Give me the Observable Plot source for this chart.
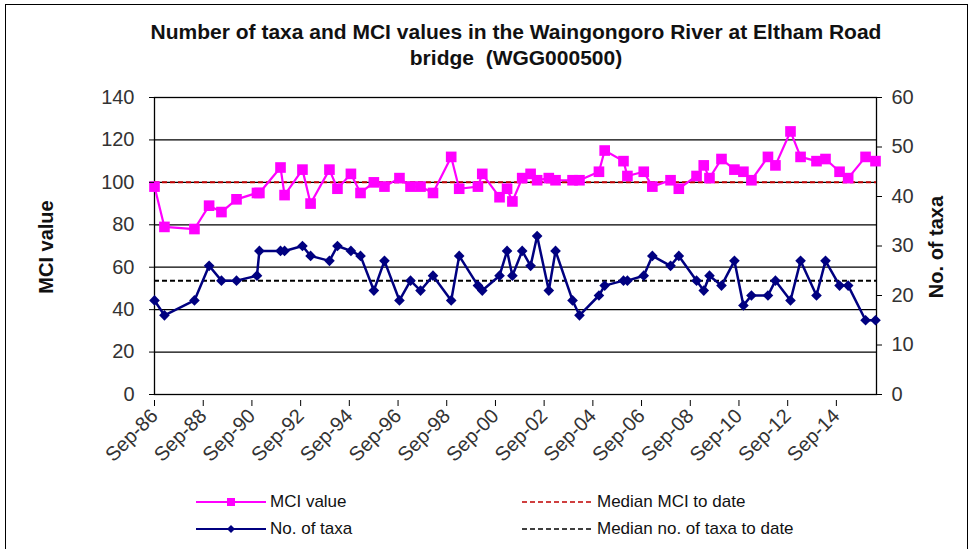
<!DOCTYPE html>
<html>
<head>
<meta charset="utf-8">
<script src="https://cdn.jsdelivr.net/npm/d3@7"></script>
<script src="https://cdn.jsdelivr.net/npm/@observablehq/plot@0.6"></script>
<style>
  body { margin: 0; background: #fff; font-family: "Liberation Sans", Arial, sans-serif; }
  #wrap { position: relative; width: 971px; height: 549px; overflow: hidden; background: #fff; }
  #frame { position: absolute; left: 5px; top: 4px; width: 963px; height: 560px; border: 1px solid #000; box-sizing: border-box; pointer-events: none; }
  #title { position: absolute; left: 0; top: 19px; width: 1032px; text-align: center; font-weight: bold; font-size: 21px; line-height: 26px; color: #111; }
  #chart { position: absolute; left: 0; top: 85px; }
  .ytitle { position: absolute; font-weight: bold; font-size: 20px; color: #111; white-space: nowrap; transform: translate(-50%, -50%) rotate(-90deg); }
  .leg { position: absolute; font-size: 17px; color: #111; white-space: nowrap; line-height: 20px; }
  .legsym { position: absolute; }
</style>
</head>
<body>
<div id="wrap">
  <div id="title">Number of taxa and MCI values in the Waingongoro River at Eltham Road<br>bridge&nbsp; (WGG000500)</div>
  <div id="chart"></div>
  <div class="ytitle" style="left:46px; top:247px;">MCI value</div>
  <div class="ytitle" style="left:936px; top:247px;">No. of taxa</div>
  <svg class="legsym" style="left:190px; top:490px;" width="80" height="50">
    <line x1="6" x2="76" y1="12" y2="12" stroke="#ff00ff" stroke-width="2"/>
    <rect x="37" y="8" width="8" height="8" fill="#ff00ff"/>
    <line x1="6" x2="76" y1="39" y2="39" stroke="#000080" stroke-width="2"/>
    <path d="M41,35 L45,39 L41,43 L37,39 Z" fill="#000080"/>
  </svg>
  <div class="leg" style="left:270px; top:492px;">MCI value</div>
  <div class="leg" style="left:270px; top:519px;">No. of taxa</div>
  <svg class="legsym" style="left:518px; top:490px;" width="80" height="50">
    <line x1="4" x2="74" y1="12" y2="12" stroke="#c00000" stroke-width="1.5" stroke-dasharray="5,3"/>
    <line x1="4" x2="74" y1="39" y2="39" stroke="#000" stroke-width="1.5" stroke-dasharray="5,3"/>
  </svg>
  <div class="leg" style="left:597px; top:492px;">Median MCI to date</div>
  <div class="leg" style="left:597px; top:519px;">Median no. of taxa to date</div>
  <div id="frame"></div>
</div>
<script>
// ---- data ----
const sampleDates = [
  "1986-09-01","1987-01-28","1988-04-22","1988-11-28","1989-06-01","1990-01-13",
  "1990-11-16","1990-12-22","1991-11-04","1992-01-04","1992-09-28","1993-01-28",
  "1993-11-07","1994-03-07","1994-09-25","1995-02-16","1995-09-04","1996-02-10",
  "1996-09-22","1997-03-07","1997-08-04","1998-02-07","1998-11-07","1999-03-07",
  "1999-12-13","2000-02-16","2000-11-01","2001-02-22","2001-05-13","2001-10-07",
  "2002-02-10","2002-05-19","2002-11-10","2003-02-19","2003-11-01","2004-02-13",
  "2004-12-01","2005-02-25","2005-12-04","2006-02-01","2006-10-04","2007-02-10",
  "2007-11-10","2008-03-13","2008-12-04","2009-03-22","2009-06-16","2009-12-13",
  "2010-06-25","2010-11-07","2011-03-07","2011-11-10","2012-03-01","2012-10-13",
  "2013-03-13","2013-11-07","2014-03-22","2014-10-19","2015-02-25","2015-11-13",
  "2016-04-10"
];
const mciValues = [
  98, 79, 78, 89, 86, 92,
  95, 95, 107, 94, 106, 90,
  106, 97, 104, 95, 100, 98,
  102, 98, 98, 95, 112, 97,
  98, 104, 93, 97, 91, 102,
  104, 101, 102, 101, 101, 101,
  105, 115, 110, 103, 105, 98,
  101, 97, 103, 108, 102, 111,
  106, 105, 101, 112, 108, 124,
  112, 110, 111, 105, 102, 112,
  110
];
const taxaValues = [
  19, 16, 19, 26, 23, 23,
  24, 29, 29, 29, 30, 28,
  27, 30, 29, 28, 21, 27,
  19, 23, 21, 24, 19, 28,
  22, 21, 24, 29, 24, 29,
  26, 32, 21, 29, 19, 16,
  20, 22, 23, 23, 24, 28,
  26, 28, 23, 21, 24, 22,
  27, 18, 20, 20, 23, 19,
  27, 20, 27, 22, 22, 15,
  15
];
const medianMCI = 100;
const medianTaxa = 23;
const xTickDates = ["1986-09-01","1988-09-01","1990-09-01","1992-09-01","1994-09-01","1996-09-01","1998-09-01","2000-09-01","2002-09-01","2004-09-01","2006-09-01","2008-09-01","2010-09-01","2012-09-01","2014-09-01"];
const xTickLabels = ["Sep-86","Sep-88","Sep-90","Sep-92","Sep-94","Sep-96","Sep-98","Sep-00","Sep-02","Sep-04","Sep-06","Sep-08","Sep-10","Sep-12","Sep-14"];
const mciTicks = [0, 20, 40, 60, 80, 100, 120, 140];
const taxaTicks = [0, 10, 20, 30, 40, 50, 60];
const xDomain = ["1986-09-01", "2016-04-25"];

// ---- chart ----
const K = 140 / 60; // taxa -> MCI-axis units (secondary axis)
const rows = sampleDates.map((d, i) => ({date: new Date(d), mci: mciValues[i], taxa: taxaValues[i] * K}));
const labelMap = new Map(xTickDates.map((d, i) => [+new Date(d), xTickLabels[i]]));

const chart = Plot.plot({
  width: 971,
  height: 385,
  marginTop: 12,
  marginBottom: 76,
  marginLeft: 154,
  marginRight: 95,
  style: {fontFamily: "'Liberation Sans', Arial, sans-serif", fontSize: "20px", color: "#333", background: "transparent"},
  x: {type: "utc", domain: xDomain.map(d => new Date(d))},
  y: {domain: [0, 140]},
  marks: [
    Plot.gridY(mciTicks.filter(v => v > 0), {stroke: "#000", strokeOpacity: 1, strokeWidth: 1.2}),
    Plot.frame({stroke: "#000", strokeWidth: 1.3}),
    Plot.ruleY([medianMCI], {stroke: "#c00000", strokeWidth: 2, strokeDasharray: "5,3"}),
    Plot.ruleY([medianTaxa * K], {stroke: "#000", strokeWidth: 2, strokeDasharray: "5,3"}),
    Plot.line(rows, {x: "date", y: "mci", stroke: "#ff00ff", strokeWidth: 2.2}),
    Plot.dot(rows, {x: "date", y: "mci", symbol: "square", r: 6, fill: "#ff00ff", stroke: "none"}),
    Plot.line(rows, {x: "date", y: "taxa", stroke: "#000080", strokeWidth: 2.5}),
    Plot.dot(rows, {x: "date", y: "taxa", symbol: "diamond2", r: 4.8, fill: "#000080", stroke: "none"}),
    Plot.axisY(mciTicks, {anchor: "left", tickSize: 5, tickPadding: 15, label: null, stroke: "#000"}),
    Plot.axisY(taxaTicks.map(v => v * K), {anchor: "right", tickSize: 5, tickPadding: 10, label: null, stroke: "#000", tickFormat: d => String(Math.round(d / K))}),
    Plot.axisX(xTickDates.map(d => new Date(d)), {anchor: "bottom", tickSize: 6, tickPadding: 6, tickRotate: -45, dy: 6, label: null, stroke: "#000", tickFormat: d => labelMap.get(+d)})
  ]
});
document.getElementById("chart").appendChild(chart);
</script>
</body>
</html>
